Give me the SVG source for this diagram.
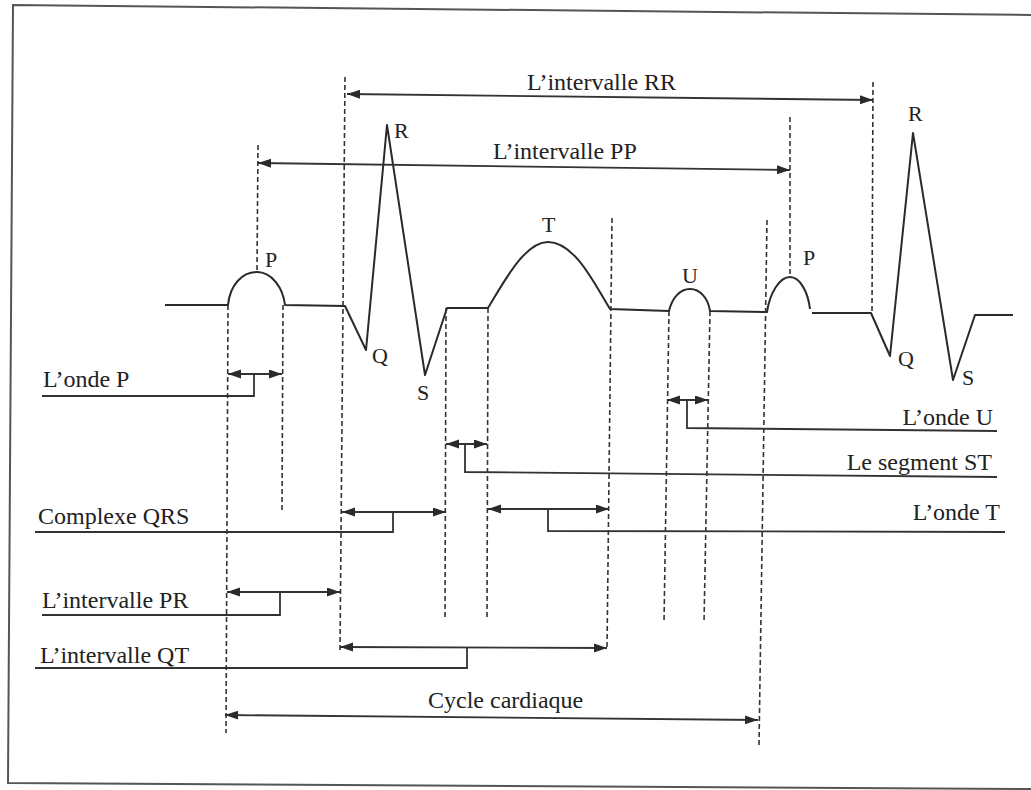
<svg xmlns="http://www.w3.org/2000/svg" width="1031" height="790" viewBox="0 0 1031 790">
<style>
.frame{fill:none;stroke:#555;stroke-width:2}
.wave{fill:none;stroke:#2a2a2a;stroke-width:2;stroke-linejoin:round}
.guide{fill:none;stroke:#333;stroke-width:1.6;stroke-dasharray:5,3}
.arr{fill:none;stroke:#333;stroke-width:1.8;marker-start:url(#ah);marker-end:url(#ah)}
.lead{fill:none;stroke:#333;stroke-width:1.8}
text{font-family:"Liberation Serif","Times New Roman",serif;fill:#222}
.lbl{font-size:24px}
.pk{font-size:22px}
</style>
<defs>
<marker id="ah" markerUnits="userSpaceOnUse" markerWidth="14" markerHeight="10" refX="13" refY="4.5" orient="auto-start-reverse">
<path d="M0,0 L13,4.5 L0,9 z" fill="#2a2a2a"/>
</marker>
</defs>
<rect width="1031" height="790" fill="#fff"/>
<path class="frame" d="M1031,15 L13,5 L8,783 L1031,789"/>
<g id="waveform">
<path class="wave" d="M165,305 L228,305 C230,285 242,272 257,272 C272,272 283,288 285,305 L345,306 L366,350 L387,125 L425,375 L447,308 L488,308 C505,280 525,242 548,242 C575,242 595,285 610,309 L669,311 C672,298 680,289 690,289 C700,289 708,298 710,311 L767,312 C770,292 780,277 790,277 C800,277 808,292 810,309 M812,313 L871,313 L890,356 L913,133 L953,380 L975,315 L1013,315"/>
</g>
<g id="guides">
<path class="guide" d="M228,305 L226,733"/>
<path class="guide" d="M283,305 L282,510"/>
<path class="guide" d="M258,145 L257,270"/>
<path class="guide" d="M345,77 L340,650"/>
<path class="guide" d="M446,308 L445,620"/>
<path class="guide" d="M488,308 L487,620"/>
<path class="guide" d="M612,218 L607,650"/>
<path class="guide" d="M669,311 L664,623"/>
<path class="guide" d="M710,311 L704,623"/>
<path class="guide" d="M767,220 L759,745"/>
<path class="guide" d="M790,117 L790,277"/>
<path class="guide" d="M873,82 L872,312"/>
</g>
<g id="connectors">
<path class="arr" d="M347,94 L873,100"/>
<path class="arr" d="M258,163 L790,170"/>
<path class="arr" d="M228,374 L282,374"/>
<path class="arr" d="M667,400 L708,400"/>
<path class="arr" d="M446,444 L487,444"/>
<path class="arr" d="M342,512 L446,512"/>
<path class="arr" d="M488,509 L609,509"/>
<path class="arr" d="M227,592 L340,592"/>
<path class="arr" d="M340,647 L607,648"/>
<path class="arr" d="M225,715 L758,720"/>
<path class="lead" d="M42,396 L254,396 L254,374"/>
<path class="lead" d="M35,532 L393,532 L393,512"/>
<path class="lead" d="M465,444 L465,472 L997,477"/>
<path class="lead" d="M548,509 L548,531 L1005,532"/>
<path class="lead" d="M687,400 L687,428 L997,431"/>
<path class="lead" d="M42,615 L280,615 L280,592"/>
<path class="lead" d="M35,668 L467,668 L467,647"/>
</g>
<g id="peaks">
<text class="pk" x="265" y="267">P</text>
<text class="pk" x="394" y="138">R</text>
<text class="pk" x="372" y="363">Q</text>
<text class="pk" x="417" y="400">S</text>
<text class="pk" x="542" y="232">T</text>
<text class="pk" x="682" y="283">U</text>
<text class="pk" x="803" y="265">P</text>
<text class="pk" x="908" y="121">R</text>
<text class="pk" x="898" y="366">Q</text>
<text class="pk" x="962" y="385">S</text>
</g>
<g id="label-rr"><text class="lbl" x="527" y="90">L’intervalle RR</text></g>
<g id="label-pp"><text class="lbl" x="493" y="159">L’intervalle PP</text></g>
<g id="label-onde-p"><text class="lbl" x="43" y="387">L’onde P</text></g>
<g id="label-onde-u"><text class="lbl" x="993" y="425" text-anchor="end">L’onde U</text></g>
<g id="label-st"><text class="lbl" x="992" y="470" text-anchor="end">Le segment ST</text></g>
<g id="label-onde-t"><text class="lbl" x="1000" y="520" text-anchor="end">L’onde T</text></g>
<g id="label-qrs"><text class="lbl" x="38" y="524">Complexe QRS</text></g>
<g id="label-pr"><text class="lbl" x="42" y="608">L’intervalle PR</text></g>
<g id="label-qt"><text class="lbl" x="40" y="663">L’intervalle QT</text></g>
<g id="label-cycle"><text class="lbl" x="428" y="708">Cycle cardiaque</text></g>
</svg>
